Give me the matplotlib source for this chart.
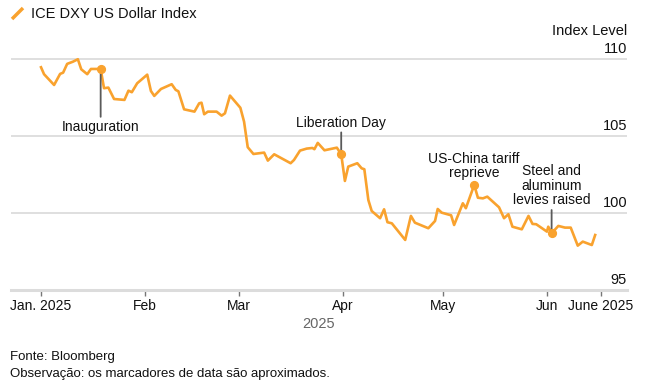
import numpy as np
import matplotlib
matplotlib.use("Agg")
import matplotlib.pyplot as plt
from matplotlib.lines import Line2D

plt.rcParams['font.family'] = ['Liberation Sans', 'DejaVu Sans']

# days since Jan 1 2025, index level
days = [0, 0.9, 3.9, 5.7, 6.6, 7.8, 9.5, 11.0, 12.0, 13.8,
        14.9, 16.6, 17.8, 18.8, 20.1, 21.8, 24.9, 26.1, 27.1, 28.7,
        31.7, 32.8, 33.8, 35.8, 39.0, 40.2, 41.0, 42.7, 45.8, 47.2,
        47.9, 48.7, 49.8, 52.4, 53.9, 54.9, 56.4, 59.5, 60.6, 61.7,
        63.4, 66.6, 67.7, 69.6, 74.5, 75.5, 77.3, 79.3, 81.0, 81.6,
        82.6, 84.6, 88.3, 89.6, 90.7, 91.7, 94.4, 95.7, 96.5, 97.7,
        98.7, 101.2, 102.4, 103.4, 104.7, 108.7, 110.4, 111.6, 115.6, 117.6,
        118.4, 119.6, 122.4, 123.3, 125.9, 126.8, 129.3, 130.4, 131.9, 133.2,
        136.7, 138.2, 139.5, 140.7, 143.5, 145.5, 146.7, 147.8, 151.0, 151.4,
        152.4, 154.4, 156.4, 158.1, 160.2, 161.7, 164.4, 165.4]
dxy = [109.46, 109.01, 108.31, 109.03, 109.11, 109.68, 109.82, 109.98, 109.33, 109.01,
       109.35, 109.35, 109.35, 108.10, 108.14, 107.40, 107.34, 107.94, 107.84, 108.42,
       108.98, 107.92, 107.60, 108.05, 108.36, 107.99, 107.90, 106.73, 106.58, 107.12,
       107.16, 106.41, 106.58, 106.58, 106.32, 106.47, 107.62, 106.83, 105.93, 104.27,
       103.83, 103.92, 103.40, 103.81, 103.23, 103.44, 104.05, 104.18, 104.22, 104.14,
       104.55, 104.07, 104.24, 103.81, 102.08, 103.01, 103.23, 102.90, 102.84, 100.84,
       100.13, 99.66, 100.24, 99.40, 99.33, 98.25, 99.81, 99.37, 99.01, 99.48,
       100.26, 100.02, 99.85, 99.22, 100.63, 100.31, 101.82, 100.99, 100.95, 101.06,
       100.37, 99.66, 99.92, 99.11, 98.94, 99.81, 99.29, 99.27, 98.79, 99.11,
       98.68, 99.16, 99.05, 99.05, 97.88, 98.14, 97.92, 98.57]

# event markers: index into the series, label, label offset (points)
events = [
    (12, "Inauguration", -41.5),
    (53, "Liberation Day", 22.8),
    (76, "US-China tariff\nreprieve", 13.7),
    (90, "Steel and\naluminum\nlevies raised", 34.3),
]

tick_days = [0, 31, 59, 90, 120, 151, 167]
tick_labels = ["Jan. 2025", "Feb", "Mar", "Apr", "May", "Jun", "June 2025"]
y_levels = [95, 100, 105, 110]

orange = '#F9A22E'
W, H = 652, 387

fig = plt.figure(figsize=(W / 100, H / 100), dpi=100)
ax = fig.add_axes([11 / W, 97 / H, 616 / W, 250 / H])
ax.set_xlim(-8.96, 174.9)
ax.set_ylim(95, 111.23)

for s in ['top', 'left', 'right']:
    ax.spines[s].set_visible(False)
ax.spines['bottom'].set_color('#dcdcdc')
ax.spines['bottom'].set_linewidth(2.2)

for lv in y_levels[1:]:
    ax.axhline(lv, color='#d9d9d9', lw=1.2, zorder=0)
for lv in y_levels:
    ax.annotate(str(lv), xy=(1, lv), xycoords=('axes fraction', 'data'),
                xytext=(0, 4.5), textcoords='offset points',
                ha='right', va='baseline', fontsize=10.5, color='#111')

ax.set_yticks([])
ax.set_xticks(tick_days, tick_labels)
ax.tick_params(axis='x', length=4.5, width=1, color='#777', pad=2,
               labelsize=10, labelcolor='#111')
ax.set_xlabel("2025", fontsize=10.5, color='#666', labelpad=3)

ax.plot(days, dxy, color=orange, lw=1.9, solid_joinstyle='round', zorder=3)

for i, label, off in events:
    ax.annotate(label, xy=(days[i], dxy[i]), xytext=(0, off),
                textcoords='offset points', ha='center', va='center',
                fontsize=10, color='#111', linespacing=1.05,
                arrowprops=dict(arrowstyle='-', color='#5a5a5a', lw=1.3,
                                shrinkA=0, shrinkB=0))
    ax.plot(days[i], dxy[i], 'o', color=orange, ms=5.6, zorder=4)

# header
fig.add_artist(Line2D([12 / W, 23 / W], [1 - 19 / H, 1 - 8 / H],
                      color=orange, lw=2.5, solid_capstyle='butt'))
fig.text(31 / W, 1 - 13.5 / H, "ICE DXY US Dollar Index", fontsize=10.5,
         va='center', ha='left', color='#111')
fig.text(627 / W, 1 - 31 / H, "Index Level", fontsize=10.5,
         va='center', ha='right', color='#111')

# footer
fig.text(10 / W, 1 - 357 / H, "Fonte: Bloomberg", fontsize=9.5,
         va='center', ha='left', color='#111')
fig.text(10 / W, 1 - 374 / H, "Observação: os marcadores de data são aproximados.",
         fontsize=9.5, va='center', ha='left', color='#111')

fig.savefig("out.png", dpi=100)
